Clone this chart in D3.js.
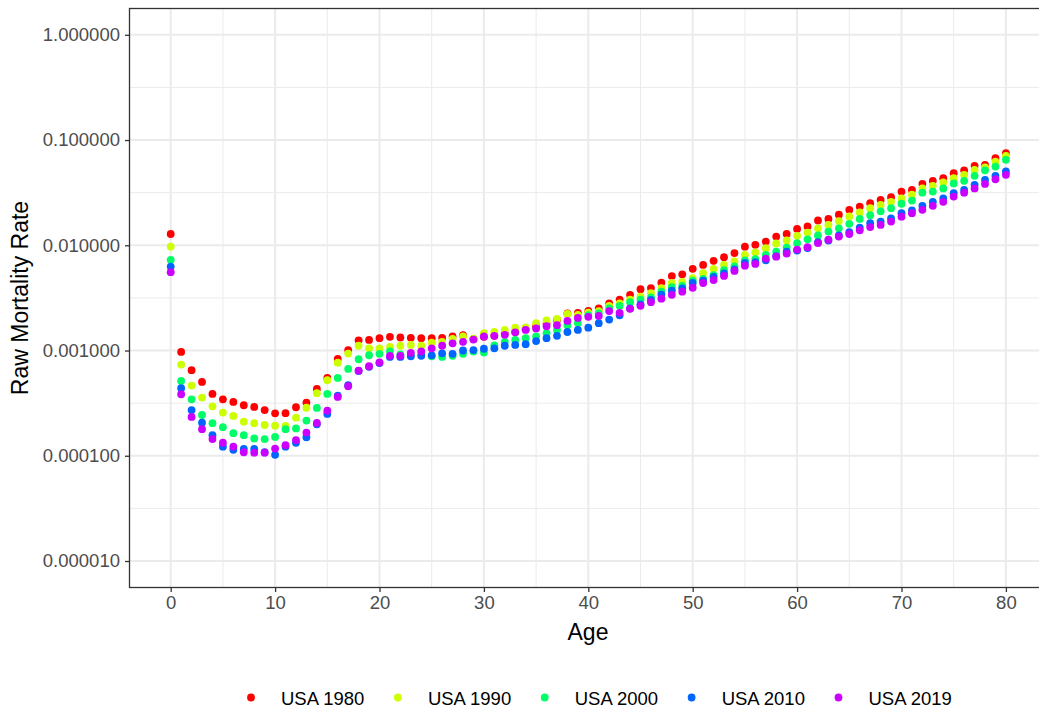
<!DOCTYPE html>
<html><head><meta charset="utf-8">
<script src="https://cdn.jsdelivr.net/npm/d3@7"></script>
<style>html,body{margin:0;padding:0;background:#fff;}svg{display:block;font-family:"Liberation Sans",Arial,sans-serif;}</style>
</head><body><svg id="c" width="1039" height="709"></svg>
<script>
const ages = d3.range(0, 81);
const seriesNames = ["USA 1980","USA 1990","USA 2000","USA 2010","USA 2019"];
const seriesColors = ["#FF0000","#CCFF00","#00FF66","#0066FF","#CC00FF"];
const usa1980 = [0.0128,0.00097,0.00065,0.000503,0.000387,0.000344,0.000325,0.000302,0.000291,0.000272,
0.000253,0.000254,0.000289,0.00032,0.000431,0.000549,0.000832,0.00101,0.00125,0.00126,
0.00131,0.00135,0.00133,0.00132,0.00131,0.00131,0.00132,0.00136,0.0014,0.00129,
0.00135,0.00138,0.00145,0.0015,0.0016,0.0017,0.0018,0.00195,0.00225,0.00228,
0.00238,0.00251,0.0028,0.00305,0.00338,0.00383,0.00392,0.00442,0.0051,0.0053,
0.00597,0.00651,0.00712,0.0077,0.00844,0.0097,0.0101,0.01085,0.0121,0.0128,
0.0143,0.0151,0.0172,0.0178,0.0195,0.0217,0.0233,0.0251,0.027,0.0286,
0.0324,0.0336,0.0383,0.041,0.0434,0.0484,0.0515,0.0569,0.058,0.0673,0.075];
const usa1990 = [0.00972,0.000735,0.000464,0.000357,0.000295,0.000257,0.000239,0.000211,0.000204,0.000196,
0.000193,0.000192,0.00023,0.000286,0.000393,0.000522,0.000767,0.000935,0.00111,0.00105,
0.00105,0.00108,0.00111,0.00113,0.00111,0.00119,0.00121,0.00129,0.00136,0.0013,
0.00146,0.0015,0.00157,0.00165,0.00166,0.00182,0.00193,0.002,0.00223,0.00218,
0.00229,0.00237,0.00266,0.0028,0.00305,0.00325,0.0035,0.00392,0.00438,0.0045,
0.00488,0.00543,0.00597,0.00651,0.00704,0.0081,0.00855,0.00938,0.0104,0.0111,
0.0123,0.0132,0.0145,0.0156,0.017,0.0188,0.0205,0.0225,0.0242,0.0259,
0.0279,0.0302,0.0347,0.0367,0.0395,0.0434,0.0467,0.0521,0.055,0.0624,0.0707];
const usa2000 = [0.00727,0.000514,0.000344,0.000244,0.000204,0.000187,0.000164,0.000157,0.000146,0.000144,
0.000151,0.000179,0.000182,0.000216,0.000285,0.000387,0.000549,0.000668,0.000826,0.000902,
0.00093,0.00098,0.00092,0.00091,0.00092,0.00088,0.00087,0.00089,0.00093,0.00098,
0.00096,0.00112,0.00121,0.00126,0.00131,0.00136,0.00146,0.00157,0.00174,0.00183,
0.00217,0.00225,0.00251,0.00266,0.00288,0.00305,0.0032,0.00362,0.004,0.00412,
0.00461,0.0048,0.0052,0.0058,0.0063,0.0072,0.0074,0.00812,0.0087,0.0095,
0.0105,0.0114,0.0124,0.0135,0.0145,0.016,0.0178,0.0193,0.021,0.0225,
0.0248,0.0266,0.0316,0.0324,0.0347,0.0387,0.041,0.0457,0.0515,0.056,0.0648];
const usa2010 = [0.00628,0.000438,0.000272,0.000206,0.000157,0.000122,0.000114,0.000116,0.000116,0.000108,
0.000102,0.000122,0.000133,0.00015,0.000199,0.00025,0.000373,0.000468,0.00064,0.0007,
0.00076,0.00087,0.00087,0.00088,0.00089,0.0009,0.00094,0.00093,0.001,0.00101,
0.00104,0.00105,0.00111,0.00113,0.00115,0.00123,0.00131,0.00138,0.0015,0.00157,
0.00165,0.00182,0.00197,0.00216,0.00252,0.00275,0.00302,0.0034,0.0037,0.0039,
0.00438,0.0046,0.005,0.0054,0.0059,0.0068,0.0069,0.0072,0.0079,0.0087,
0.0089,0.0094,0.0107,0.0111,0.0124,0.0133,0.0147,0.0162,0.0168,0.018,
0.0202,0.0214,0.0237,0.0259,0.0279,0.0313,0.0336,0.0375,0.0418,0.0457,0.0503];
const usa2019 = [0.00555,0.000384,0.000234,0.000179,0.000144,0.000133,0.000122,0.000108,0.000107,0.000107,
0.000117,0.000126,0.000141,0.000166,0.000205,0.000268,0.000362,0.000458,0.000644,0.000709,
0.00077,0.00089,0.00089,0.00095,0.00098,0.00105,0.00111,0.00117,0.00121,0.00127,
0.00136,0.00138,0.00141,0.00149,0.00157,0.00162,0.0017,0.00174,0.00191,0.00204,
0.00209,0.00213,0.00237,0.00228,0.00249,0.00266,0.00288,0.00311,0.00338,0.00362,
0.00395,0.00438,0.00468,0.00512,0.00571,0.0064,0.00665,0.00747,0.0078,0.00832,
0.0091,0.0096,0.0105,0.0113,0.0121,0.0128,0.0139,0.0149,0.0156,0.0168,
0.0187,0.0202,0.0217,0.0237,0.0259,0.029,0.0316,0.0347,0.0383,0.0424,0.0467];
const xTicks = [0,10,20,30,40,50,60,70,80];
const xMinor = [5,15,25,35,45,55,65,75];
const yTicks = [1e-5,1e-4,1e-3,1e-2,1e-1,1];
const yTickLabels = ["0.000010","0.000100","0.001000","0.010000","0.100000","1.000000"];
const yMinorExp = [-4.5,-3.5,-2.5,-1.5,-0.5];
const yMinor = yMinorExp.map(e => Math.pow(10, e));

const allSeries = [usa1980, usa1990, usa2000, usa2010, usa2019];

const svg = d3.select("#c");
const P = {left:129.5, top:8.5, right:1047, bottom:587.5};
const x = d3.scaleLinear().domain([0,80]).range([170.7,1005.9]);
const y = d3.scaleLog().domain([1e-5,1]).range([561,34.8]);

const g = svg.append("g");
g.selectAll(".xmin").data(xMinor).join("line").attr("x1",d=>x(d)).attr("x2",d=>x(d))
 .attr("y1",P.top).attr("y2",P.bottom).attr("stroke","#EBEBEB").attr("stroke-width",1);
g.selectAll(".ymin").data(yMinor).join("line").attr("y1",d=>y(d)).attr("y2",d=>y(d))
 .attr("x1",P.left).attr("x2",P.right).attr("stroke","#EBEBEB").attr("stroke-width",1);
g.selectAll(".xmaj").data(xTicks).join("line").attr("x1",d=>x(d)).attr("x2",d=>x(d))
 .attr("y1",P.top).attr("y2",P.bottom).attr("stroke","#EBEBEB").attr("stroke-width",2);
g.selectAll(".ymaj").data(yTicks).join("line").attr("y1",d=>y(d)).attr("y2",d=>y(d))
 .attr("x1",P.left).attr("x2",P.right).attr("stroke","#EBEBEB").attr("stroke-width",2);

allSeries.forEach((s,i)=>{
  svg.append("g").selectAll("circle").data(s.map((v,j)=>({a:ages[j],v})))
    .join("circle").attr("cx",d=>x(d.a)).attr("cy",d=>y(d.v)).attr("r",3.9)
    .attr("fill",seriesColors[i]);
});

svg.append("rect").attr("x",P.left).attr("y",P.top).attr("width",P.right-P.left).attr("height",P.bottom-P.top)
  .attr("fill","none").attr("stroke","#333333").attr("stroke-width",1.3);

const xAxis = d3.axisBottom(x).tickValues(xTicks).tickSize(4.5).tickPadding(4);
const xa = svg.append("g").attr("transform",`translate(0,${P.bottom})`).call(xAxis);
xa.select(".domain").remove();
xa.selectAll("line").attr("stroke","#333333").attr("stroke-width",1.3);
xa.selectAll("text").attr("fill","#4D4D4D").style("font-size","18.5px").style("font-family","Liberation Sans, Arial, sans-serif");

const yAxis = d3.axisLeft(y).tickValues(yTicks).tickFormat((d,i)=>yTickLabels[i]).tickSize(4.5).tickPadding(5);
const ya = svg.append("g").attr("transform",`translate(${P.left},0)`).call(yAxis);
ya.select(".domain").remove();
ya.selectAll("line").attr("stroke","#333333").attr("stroke-width",1.3);
ya.selectAll("text").attr("fill","#4D4D4D").style("font-size","18.5px").style("font-family","Liberation Sans, Arial, sans-serif");

svg.append("text").attr("x",588).attr("y",640).attr("text-anchor","middle")
  .style("font-size","23px").attr("fill","#000").text("Age");
svg.append("text").attr("transform","translate(28,298) rotate(-90)").attr("text-anchor","middle")
  .style("font-size","23px").attr("fill","#000").text("Raw Mortality Rate");

const lx = d3.scaleLinear().domain([0,4]).range([251,838.5]);
const leg = svg.append("g");
seriesNames.forEach((n,i)=>{
  leg.append("circle").attr("cx",lx(i)).attr("cy",697.5).attr("r",3.9).attr("fill",seriesColors[i]);
  leg.append("text").attr("x",lx(i)+30).attr("y",704.5).style("font-size","18.5px").attr("fill","#000").text(n);
});
</script></body></html>
